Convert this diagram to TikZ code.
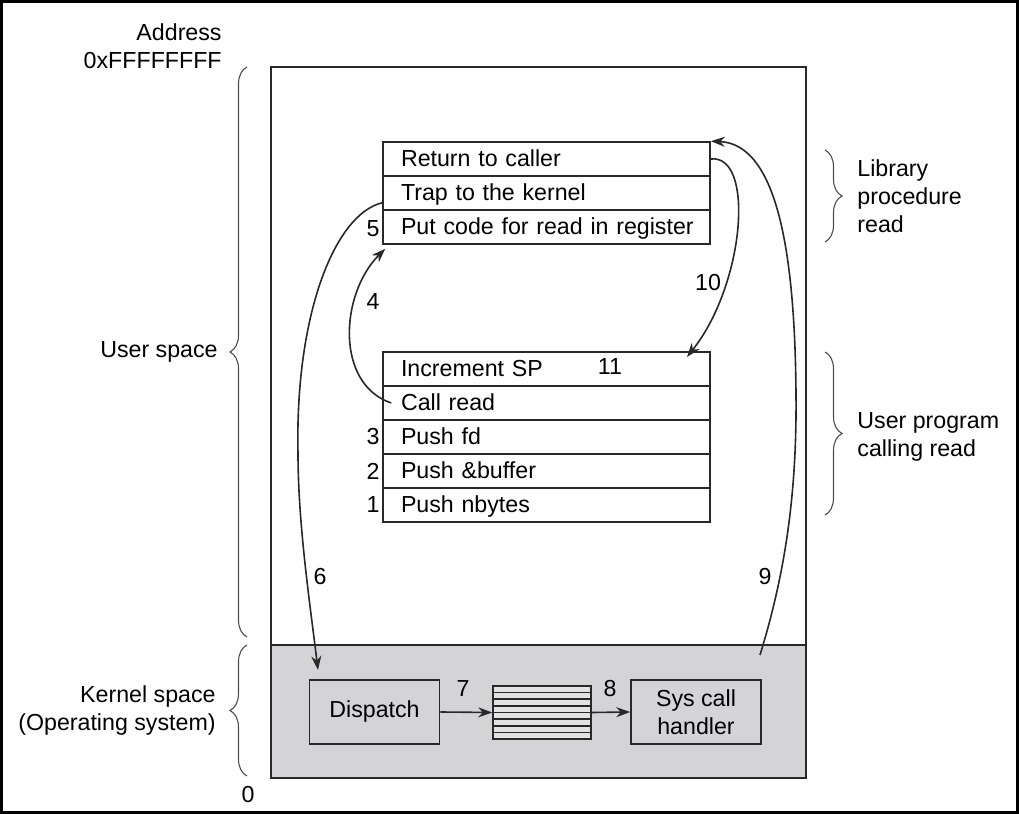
\documentclass[tikz,border=0pt]{standalone}
\usepackage{fontspec}
\setmainfont{Liberation Sans}
\usetikzlibrary{arrows.meta,positioning,decorations.pathreplacing}
\definecolor{kernelgray}{RGB}{212,212,214}
\definecolor{linegray}{RGB}{40,40,40}
\tikzset{
  lbl/.style={font=\fontsize{11.6}{14}\selectfont,inner sep=1pt},
  stackrow/.style={draw=linegray,line width=0.8pt,minimum height=17pt,text width=145.5pt,text height=10pt,text depth=2pt,inner xsep=9pt,inner ysep=0pt,align=left,font=\fontsize{11.6}{14}\selectfont},
  kbox/.style={draw=linegray,line width=0.8pt,minimum width=65pt,minimum height=32pt,inner sep=1pt,align=center,font=\fontsize{11.6}{14}\selectfont},
  flow/.style={-{Stealth[length=7pt,width=5pt]},line width=0.8pt,linegray},
  bracel/.style={decorate,decoration={brace,amplitude=8.5pt},line width=0.55pt,gray!60!black}
}

\begin{document}
\begin{tikzpicture}[x=50pt,y=50pt]
\useasboundingbox (0,0) rectangle (10.19,8.14);
\draw[line width=1.5pt] (0.015,0.015) rectangle (10.175,8.125);

% address space, kernel part shaded
\fill[kernelgray] (2.71,0.36) rectangle (8.06,1.69);
\draw[line width=1pt,linegray] (2.71,0.36) rectangle (8.06,7.47);
\draw[line width=1pt,linegray] (2.71,1.69) -- (8.06,1.69);

% library procedure
\node[stackrow] (ret) at (5.465,6.55) {Return to caller};
\node[stackrow] (trap) at (5.465,6.21) {Trap to the kernel};
\node[stackrow] (put) at (5.465,5.87) {\mbox{Put code for read in register}};

% user program
\node[stackrow] (inc) at (5.465,4.45) {Increment SP};
\node[stackrow] (call) at (5.465,4.11) {Call read};
\node[stackrow] (pfd) at (5.465,3.77) {Push fd};
\node[stackrow] (pbuf) at (5.465,3.43) {Push \&buffer};
\node[stackrow] (pnb) at (5.465,3.09) {Push nbytes};

% step numbers
\node[lbl,anchor=east] (n5) at (3.82,5.85) {5};
\node[lbl,anchor=east] (n3) at (3.82,3.77) {3};
\node[lbl,anchor=east] (n2) at (3.82,3.43) {2};
\node[lbl,anchor=east] (n1) at (3.82,3.09) {1};
\node[lbl] (n4) at (3.73,5.12) {4};
\node[lbl] (n11) at (6.10,4.47) {11};
\node[lbl] (n10) at (7.08,5.31) {10};
\node[lbl] (n6) at (3.20,2.37) {6};
\node[lbl] (n9) at (7.65,2.37) {9};
\node[lbl] (n7) at (4.63,1.25) {7};
\node[lbl] (n8) at (6.10,1.25) {8};

% kernel
\node[kbox] (disp) at (3.745,1.02) {Dispatch};
\node[draw=linegray,line width=0.8pt,fill=gray!22,minimum width=49pt,minimum height=26.5pt,inner sep=0pt] (stack) at (5.42,1.015) {};
\foreach \i in {1,...,7}{
  \draw[linegray,line width=0.8pt] (4.93,{0.75+\i*0.06625}) -- (5.91,{0.75+\i*0.06625});
}
\node[kbox] (sys) at (6.96,1.02) {Sys call\\handler};

\draw[flow] (disp.east) -- (stack.west);
\draw[flow] (stack.east) -- (sys.west);

% calls and returns
\coordinate (d6) at (3.18,1.44);
\coordinate (s9) at (7.60,1.59);
\coordinate (t10) at (6.87,4.57);
\draw[flow] ([xshift=4.5pt]call.west) .. controls (3.35,4.3) and (3.4,5.2) .. ([shift={(0.03,-0.04)}]put.south west);
\draw[flow] ([yshift=4pt]trap.south west) .. controls (3.35,6.0) and (2.95,5.0) .. (2.98,3.61) .. controls (2.98,2.9) and (3.1,2.1) .. (d6);
\draw[flow] (s9) .. controls (7.85,2.4) and (7.97,3.2) .. (7.96,4.2) .. controls (7.95,5.5) and (7.8,6.7) .. (ret.north east);
\draw[flow] (ret.east) .. controls (7.55,6.6) and (7.45,5.3) .. (t10);

% braces and side labels
\draw[bracel] (2.47,1.77) -- (2.47,7.47);
\draw[bracel] (2.47,0.38) -- (2.47,1.69);
\draw[bracel] (8.25,6.64) -- (8.25,5.72);
\draw[bracel] (8.25,4.62) -- (8.25,2.99);
\node[lbl,anchor=east,align=right] (addr) at (2.24,7.68) {Address\\0xFFFFFFFF};
\node[lbl,anchor=east] (user) at (2.20,4.62) {User space};
\node[lbl,anchor=east,align=right] (kern) at (2.18,1.035) {Kernel space\\(Operating system)};
\node[lbl,anchor=west,align=left] (lib) at (8.55,6.18) {Library\\procedure\\read};
\node[lbl,anchor=west,align=left] (prog) at (8.55,3.77) {User program\\calling read};
\node[lbl] (zero) at (2.48,0.19) {0};
\end{tikzpicture}
\end{document}
